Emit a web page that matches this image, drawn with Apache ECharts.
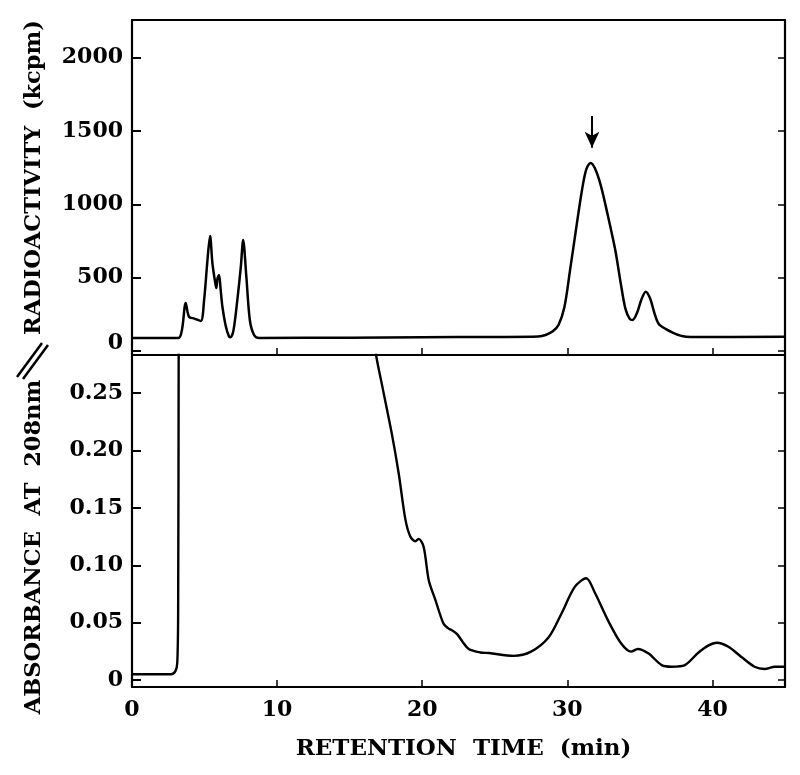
<!DOCTYPE html>
<html>
<head>
<meta charset="utf-8">
<script src="https://cdn.jsdelivr.net/npm/echarts@6/dist/echarts.min.js"></script>
<style>
html,body{margin:0;padding:0;background:#fff;}
#chart{width:800px;height:775px;}
</style>
</head>
<body>
<div id="chart"></div>
<script>
// Radioactivity trace (top panel), kcpm
var radioTime = [0, 3.2, 3.45, 3.7, 3.93, 4.3, 4.74, 4.97, 5.2, 5.38, 5.54, 5.72, 5.81, 5.9, 6.0, 6.11, 6.23, 6.46, 6.69, 6.8, 7.0, 7.26, 7.5, 7.66, 7.88, 8.12, 8.41, 8.76, 15, 20, 25, 28.0, 28.5, 29.0, 29.4, 29.8, 30.2, 30.6, 31.0, 31.3, 31.6, 31.9, 32.3, 32.8, 33.3, 33.7, 34.0, 34.3, 34.5, 34.8, 35.1, 35.4, 35.7, 36.0, 36.3, 36.8, 37.3, 37.9, 38.5, 45];
var radioKcpm = [90, 90, 150, 328, 234, 222, 205, 349, 620, 784, 600, 476, 430, 500, 519, 417, 303, 172, 99, 95, 145, 349, 575, 757, 507, 212, 110, 90, 92, 95, 97, 100, 110, 135, 180, 300, 560, 830, 1090, 1235, 1281, 1245, 1130, 920, 690, 450, 290, 220, 212, 260, 350, 405, 360, 260, 185, 150, 125, 103, 97, 98];

// Absorbance at 208 nm (bottom panel); null = trace is off scale
var absTime = [0, 2.7, 3.0, 3.12, 3.18, 3.22, 10, 16.75, 16.8, 17.2, 17.9, 18.38, 18.84, 19.18, 19.53, 19.76, 20.1, 20.45, 20.9, 21.47, 21.8, 22.1, 22.4, 22.8, 23.2, 24.0, 24.6, 26.3, 27.5, 28.7, 29.6, 30.5, 31.3, 31.9, 32.8, 33.7, 34.4, 34.85, 35.6, 36.5, 37.2, 38.1, 39.0, 39.7, 40.3, 41.1, 42.0, 42.9, 43.6, 44.3, 45];
var absValue = [0.005, 0.005, 0.008, 0.015, 0.06, 0.32, null, 0.30, 0.285, 0.259, 0.215, 0.180, 0.140, 0.125, 0.121, 0.123, 0.116, 0.087, 0.070, 0.049, 0.045, 0.043, 0.040, 0.033, 0.027, 0.024, 0.0235, 0.021, 0.0247, 0.037, 0.058, 0.081, 0.0887, 0.076, 0.052, 0.032, 0.0247, 0.027, 0.023, 0.013, 0.0116, 0.013, 0.0235, 0.030, 0.0325, 0.029, 0.020, 0.0116, 0.0096, 0.0116, 0.0116];

// Tick labels
var timeTicks = [0, 10, 20, 30, 40];
var radioTicks = [0, 500, 1000, 1500, 2000];
var absTicks = [0, 0.05, 0.10, 0.15, 0.20, 0.25];
// Arrow marking the main radioactive peak
var arrowTime = 31.7;
var arrowFrom = 1600, arrowTo = 1385;

var FONT = 'DejaVu Serif';
var lab = {fontFamily: FONT, fontWeight: 'bold', fontSize: 22, color: '#000'};
var axLine = {show: true, onZero: false, lineStyle: {color: '#000', width: 2.2}};

function pairs(xs, ys) { return xs.map(function (x, i) { return [x, ys[i]]; }); }

var X = {min: 0, max: 45, interval: 10};
var Y1 = {min: -26, max: 2254};
var Y2 = {min: -0.0061, max: 0.2833};

var chart = echarts.init(document.getElementById('chart'), null, {renderer: 'canvas'});
chart.setOption({
  animation: false,
  backgroundColor: '#fff',
  grid: [
    {left: 132, right: 15, top: 20, height: 335},
    {left: 132, right: 15, top: 355, height: 332}
  ],
  xAxis: [
    Object.assign({type: 'value', gridIndex: 0, position: 'bottom', axisLine: axLine,
      axisTick: {show: true, inside: true, length: 7, customValues: timeTicks, lineStyle: {color: '#000', width: 1.5}},
      axisLabel: {show: false}, splitLine: {show: false}}, X),
    Object.assign({type: 'value', gridIndex: 0, position: 'top', axisLine: axLine,
      axisTick: {show: false}, axisLabel: {show: false}, splitLine: {show: false}}, X),
    Object.assign({type: 'value', gridIndex: 1, position: 'bottom', axisLine: axLine,
      axisTick: {show: true, inside: true, length: 7, customValues: timeTicks, lineStyle: {color: '#000', width: 1.5}},
      axisLabel: Object.assign({show: true, margin: 12, customValues: timeTicks}, lab),
      splitLine: {show: false},
      name: 'RETENTION  TIME  (min)', nameLocation: 'middle', nameGap: 51,
      nameTextStyle: {fontFamily: FONT, fontWeight: 'bold', fontSize: 23, color: '#000', padding: [0, 0, 0, 10]}}, X),
    Object.assign({type: 'value', gridIndex: 1, position: 'top', axisLine: axLine,
      axisTick: {show: false}, axisLabel: {show: false}, splitLine: {show: false}}, X)
  ],
  yAxis: [
    Object.assign({type: 'value', gridIndex: 0, position: 'left', axisLine: axLine,
      axisTick: {show: true, inside: true, length: 9, customValues: radioTicks, lineStyle: {color: '#000', width: 2}},
      axisLabel: Object.assign({show: true, margin: 9, customValues: radioTicks,
        formatter: function (v) { return v === 0 ? '{z|0}' : String(v); },
        rich: {z: {fontFamily: FONT, fontWeight: 'bold', fontSize: 22, color: '#000', padding: [0, 0, 16, 0]}}}, lab),
      splitLine: {show: false},
      name: 'RADIOACTIVITY  (kcpm)', nameLocation: 'middle', nameRotate: 90, nameGap: 86,
      nameTextStyle: {fontFamily: FONT, fontWeight: 'bold', fontSize: 22.5, color: '#000', padding: [0, 0, 0, 20]}}, Y1),
    Object.assign({type: 'value', gridIndex: 0, position: 'right', axisLine: axLine,
      axisTick: {show: true, inside: true, length: 7, customValues: radioTicks, lineStyle: {color: '#000', width: 1.5}},
      axisLabel: {show: false}, splitLine: {show: false}}, Y1),
    Object.assign({type: 'value', gridIndex: 1, position: 'left', axisLine: axLine,
      axisTick: {show: true, inside: true, length: 9, customValues: absTicks, lineStyle: {color: '#000', width: 2}},
      axisLabel: Object.assign({show: true, margin: 9, customValues: absTicks,
        formatter: function (v) { return v === 0 ? '0' : v.toFixed(2); }}, lab),
      splitLine: {show: false},
      name: 'ABSORBANCE  AT  208nm', nameLocation: 'middle', nameRotate: 90, nameGap: 86,
      nameTextStyle: {fontFamily: FONT, fontWeight: 'bold', fontSize: 22.5, color: '#000', padding: [0, 52, 0, 0]}}, Y2),
    Object.assign({type: 'value', gridIndex: 1, position: 'right', axisLine: axLine,
      axisTick: {show: true, inside: true, length: 7, customValues: absTicks, lineStyle: {color: '#000', width: 1.5}},
      axisLabel: {show: false}, splitLine: {show: false}}, Y2)
  ],
  graphic: [
    {type: 'line', shape: {x1: 17, y1: 377, x2: 42, y2: 343}, style: {stroke: '#000', lineWidth: 2.5}},
    {type: 'line', shape: {x1: 23, y1: 379, x2: 48, y2: 345}, style: {stroke: '#000', lineWidth: 2.5}}
  ],
  series: [
    {
      type: 'line', xAxisIndex: 0, yAxisIndex: 0,
      data: pairs(radioTime, radioKcpm),
      showSymbol: false, smooth: 0.3,
      lineStyle: {color: '#000', width: 2.5},
      markLine: {
        silent: true, symbol: ['none', 'arrow'], symbolSize: [11, 16],
        label: {show: false},
        lineStyle: {color: '#000', width: 2, type: 'solid'},
        data: [[{coord: [arrowTime, arrowFrom]}, {coord: [arrowTime, arrowTo]}]]
      }
    },
    {
      type: 'line', xAxisIndex: 2, yAxisIndex: 2,
      data: pairs(absTime, absValue),
      showSymbol: false, smooth: 0.3, connectNulls: false, clip: true,
      lineStyle: {color: '#000', width: 2.4}
    }
  ]
});
</script>
</body>
</html>
